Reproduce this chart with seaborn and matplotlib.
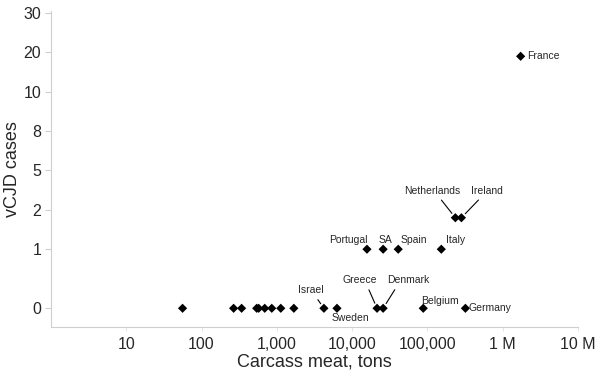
import numpy as np
import pandas as pd
import seaborn as sns
import matplotlib.pyplot as plt

# data
countries = ["", "", "", "", "", "", "", "", "",
             "Israel", "Sweden", "Greece", "Denmark", "Belgium", "Germany",
             "Portugal", "SA", "Spain", "Italy",
             "Netherlands", "Ireland", "France"]
meat_tons = [56, 267, 341, 541, 575, 692, 858, 1130, 1686,
             4230, 6310, 21500, 25900, 88400, 321000,
             15800, 25900, 41100, 153600,
             236000, 284000, 1740000]
vcjd_cases = [0, 0, 0, 0, 0, 0, 0, 0, 0,
              0, 0, 0, 0, 0, 0,
              1, 1, 1, 1,
              1.8, 1.8, 19]

y_ticks = [0, 1, 2, 5, 8, 10, 20, 30]
x_ticks = [10, 100, 1000, 10000, 100000, 1000000, 10000000]
x_labels = ["10", "100", "1,000", "10,000", "100,000", "1 M", "10 M"]

# label offsets in pixels (dx, dy, ha, line relpos or None)
label_style = {
    "Israel": (-13, 18, "center", (0.65, 0)),
    "Sweden": (13, -10, "center", None),
    "Greece": (-17, 28, "center", (0.7, 0)),
    "Denmark": (25, 28, "center", (0.25, 0)),
    "Belgium": (17, 7, "center", None),
    "Germany": (3, 0, "left", None),
    "Portugal": (-19, 9, "center", None),
    "SA": (2, 9, "center", None),
    "Spain": (16, 9, "center", None),
    "Italy": (14, 9, "center", None),
    "Netherlands": (-23, 27, "center", (0.6, 0)),
    "Ireland": (26, 27, "center", (0.35, 0)),
    "France": (6, 0, "left", None),
}

df = pd.DataFrame({"country": countries, "meat": meat_tons, "cases": vcjd_cases})

sns.set_style("white")
plt.rcParams['font.family'] = ['Liberation Sans', 'DejaVu Sans']

fig = plt.figure(figsize=(6, 3.8), dpi=100)
ax = fig.add_axes([0.085, 0.139, 0.878, 0.832])

# odd y axis of the original: evenly spaced ticks from 1 up, 0 set lower
val_pts = [-1, 0, 1, 2, 5, 8, 10, 20, 30, 40]
pos_pts = [-3, -1.5, 0, 1, 2, 3, 4, 5, 6, 7]

def fwd(v):
    return np.interp(v, val_pts, pos_pts)

def inv(p):
    return np.interp(p, pos_pts, val_pts)

ax.set_xscale("log")
ax.set_yscale("function", functions=(fwd, inv))

sns.scatterplot(data=df, x="meat", y="cases", marker="D", color="black",
                s=22, edgecolor="none", ax=ax, zorder=3)

for _, r in df.iterrows():
    if r["country"] == "":
        continue
    dx, dy, ha, relpos = label_style[r["country"]]
    kw = {}
    if relpos is not None:
        kw["arrowprops"] = dict(arrowstyle="-", color="black", lw=0.8,
                                relpos=relpos, shrinkA=1, shrinkB=4)
    ax.annotate(r["country"], (r["meat"], r["cases"]), xytext=(dx, dy),
                textcoords="offset pixels", ha=ha, va="center",
                fontsize=7.5, **kw)

ax.set_xlim(1, 1e7)
ax.set_ylim(-0.32, 30.5)
ax.set_xticks(x_ticks)
ax.set_xticklabels(x_labels)
ax.minorticks_off()
ax.set_yticks(y_ticks)
ax.set_yticklabels([str(t) for t in y_ticks])

for side in ["top", "right"]:
    ax.spines[side].set_visible(False)
for side in ["left", "bottom"]:
    ax.spines[side].set_color("#cfcfcf")
    ax.spines[side].set_linewidth(0.8)
ax.tick_params(axis="y", length=4, width=0.8, color="#cfcfcf",
               labelsize=11.5, pad=3, left=True)
ax.tick_params(axis="x", length=3, width=0.8, color="#e6e6e6",
               labelsize=11.5, pad=4, bottom=True)

ax.set_xlabel("Carcass meat, tons", fontsize=13, labelpad=1)
ax.set_ylabel("vCJD cases", fontsize=13, labelpad=2)

fig.savefig("out.png", dpi=100)
